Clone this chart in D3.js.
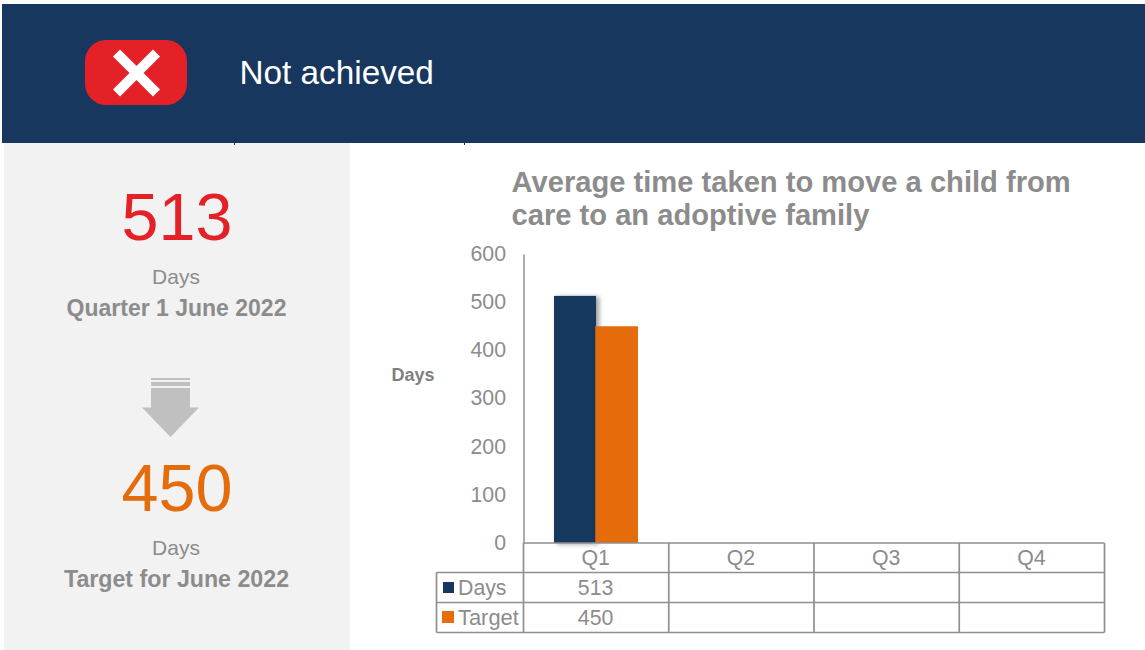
<!DOCTYPE html>
<html><head><meta charset="utf-8">
<script src="https://cdn.jsdelivr.net/npm/d3@7"></script>
<style>html,body{margin:0;padding:0;background:#fff}svg{display:block;font-family:"Liberation Sans",Arial,sans-serif}</style>
</head><body><svg id="c" width="1145" height="650"></svg>
<script>
const quarters = ["Q1","Q2","Q3","Q4"];
const days = [513,null,null,null];
const target = [450,null,null,null];
const yTicks = [0,100,200,300,400,500,600];
const titleLines = ["Average time taken to move a child from","care to an adoptive family"];
const navy="#17375e", orange="#e46c0a", red="#e52128", grey="#8c8c8c", line="#8f8f8f";

const svg=d3.select("#c");
const plotL=523.5,plotR=1104.5,plotT=254,plotB=543;
const x=d3.scaleBand().domain(quarters).range([plotL,plotR]);
const y=d3.scaleLinear().domain([0,600]).range([plotB,plotT]);
const inner=d3.scaleBand().domain(["Days","Target"]).range([x("Q1")+30.5,x("Q1")+114.5]);

function txt(g,t,px,py,size,opt={}){return g.append("text").attr("x",px).attr("y",py).attr("font-size",size)
  .attr("fill",opt.fill||grey).attr("text-anchor",opt.anchor||"middle").attr("font-weight",opt.weight||"normal").text(t);}

// banner
svg.append("rect").attr("x",2).attr("y",4).attr("width",1143).attr("height",139).attr("fill",navy);
svg.append("rect").attr("x",85).attr("y",40).attr("width",102).attr("height",65).attr("rx",21).attr("fill",red);
const cx=136.5,cy=73;
svg.append("path").attr("d",`M${cx-20},${cy-20}L${cx+20},${cy+20}M${cx+20},${cy-20}L${cx-20},${cy+20}`)
  .attr("stroke","#fff").attr("stroke-width",10).attr("fill","none");
txt(svg,"Not achieved",239.5,84,33.3,{fill:"#fff",anchor:"start"});

// side panel
svg.append("rect").attr("x",4).attr("y",143).attr("width",346).attr("height",507).attr("fill","#f2f2f2");
[234.5,464.5].forEach(v=>svg.append("rect").attr("x",v-.5).attr("y",143).attr("width",1).attr("height",2).attr("fill",navy));
txt(svg,String(days[0]),177,240,66.5,{fill:red});
txt(svg,"Days",176,284,21);
txt(svg,"Quarter 1 June 2022",176.5,316,23,{weight:"bold"});
txt(svg,String(target[0]),177,511,66.5,{fill:orange});
txt(svg,"Days",176,555,21);
txt(svg,"Target for June 2022",176.5,587,23.2,{weight:"bold"});
const ax=170.5,ac="#c0c0c0";
svg.append("rect").attr("x",ax-19.5).attr("y",378).attr("width",39).attr("height",2).attr("fill",ac);
svg.append("rect").attr("x",ax-19.5).attr("y",382).attr("width",39).attr("height",4).attr("fill",ac);
svg.append("path").attr("d",`M${ax-19.5},388H${ax+19.5}V407.5H${ax+28.5}L${ax},437L${ax-28.5},407.5H${ax-19.5}Z`).attr("fill",ac);

// title
titleLines.forEach((t,i)=>txt(svg,t,511.5,192+i*33,29.15,{anchor:"start",weight:"bold"}));
txt(svg,"Days",413,381,18,{weight:"bold",fill:"#7f7f7f"});

// shadow on the first series only
const defs=svg.append("defs");
defs.append("filter").attr("id","sh").attr("x","-30%").attr("y","-10%").attr("width","170%").attr("height","120%")
  .append("feDropShadow").attr("dx",3).attr("dy",1).attr("stdDeviation",2.5).attr("flood-color","#000").attr("flood-opacity",.4);
const bars=svg.append("g");
[["Days",days,navy],["Target",target,orange]].forEach(([n,vals,col])=>{
  bars.selectAll(null).data(quarters.map((q,i)=>({q,v:vals[i]})).filter(d=>d.v!=null)).join("rect")
   .attr("x",inner(n)-(n=="Target"?.7:0)).attr("width",inner.bandwidth()+(n=="Target"?.7:0)).attr("y",d=>y(d.v)).attr("height",d=>y(0)-y(d.v))
   .attr("fill",col).attr("filter",n=="Days"?"url(#sh)":null);
});

// axis
const axis=d3.axisLeft(y).tickValues(yTicks).tickSize(0).tickPadding(17.5);
const ag=svg.append("g").attr("transform",`translate(${plotL},0)`).call(axis);
ag.select(".domain").attr("stroke",line).attr("stroke-width",1.5);
ag.selectAll("text").attr("font-size",21.3).attr("fill",grey).attr("font-family","inherit").attr("dy","0.3em");

// data table
const rows=[plotB,572.5,602.5,632.5], tl=436.5;
const tg=svg.append("g").attr("stroke",line).attr("stroke-width",1.7);
rows.forEach((r,i)=>tg.append("line").attr("x1",i==0?plotL:tl).attr("x2",plotR).attr("y1",r).attr("y2",r));
[...quarters.map(q=>x(q)),plotR].forEach(v=>tg.append("line").attr("x1",v).attr("x2",v).attr("y1",plotB).attr("y2",rows[3]));
tg.append("line").attr("x1",tl).attr("x2",tl).attr("y1",rows[1]).attr("y2",rows[3]);
quarters.forEach((q,i)=>{
  const c=x(q)+x.bandwidth()/2-.5;
  txt(svg,q,c,565,21.3);
  if(days[i]!=null) txt(svg,String(days[i]),c,595,21.3);
  if(target[i]!=null) txt(svg,String(target[i]),c,625,21.3);
});
svg.append("rect").attr("x",443).attr("y",582).attr("width",11).attr("height",11).attr("fill",navy);
svg.append("rect").attr("x",442).attr("y",611).attr("width",12).attr("height",12).attr("fill",orange);
txt(svg,"Days",458,595,21.3,{anchor:"start"});
txt(svg,"Target",458,625,21.9,{anchor:"start"});
</script></body></html>
